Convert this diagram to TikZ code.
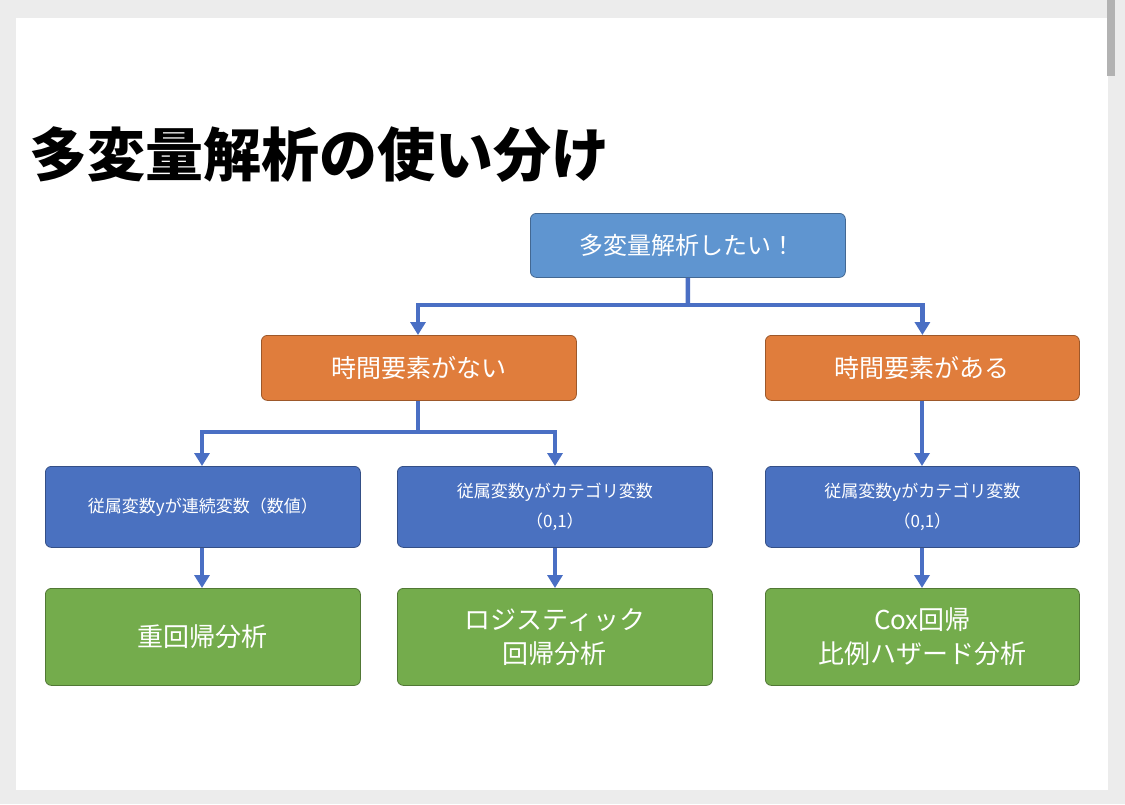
\documentclass[tikz,border=0pt]{standalone}
\usepackage{fontspec}
\setmainfont{Noto Sans CJK JP}
\usetikzlibrary{arrows.meta}
\definecolor{lb}{HTML}{5F95D0}
\definecolor{or}{HTML}{E07D3C}
\definecolor{db}{HTML}{4A71C0}
\definecolor{gr}{HTML}{74AC4C}
\definecolor{ln}{HTML}{4A6FC4}
\begin{document}
\begin{tikzpicture}[x=1pt,y=-1pt,
 box/.style={draw=#1!70!black,line width=0.8pt,fill=#1,rounded corners=6pt,minimum width=315pt,text=white,align=center,anchor=north west,inner sep=0pt},
 con/.style={draw=ln,line width=4.5pt},
 arr/.style={con,-{Triangle[length=13pt,width=15pt]}}]
\useasboundingbox (0,0) rectangle (1125,804);
\fill[gray!15] (0,0) rectangle (1125,804);
\fill[white] (16,18) rectangle (1108,790);
\fill[gray!60] (1107,0) rectangle (1115,76);
\node[anchor=west,font=\fontsize{58}{60}\selectfont\bfseries] (title) at (26,155) {多変量解析の使い分け};
\node[box=lb,minimum width=315pt,minimum height=64pt,font=\fontsize{24}{28}\selectfont] (top) at (530,213) {多変量解析したい！};
\node[box=or,minimum height=65pt,font=\fontsize{25}{28}\selectfont] (o1) at (261,335) {時間要素がない};
\node[box=or,minimum width=314pt,minimum height=65pt,font=\fontsize{25}{28}\selectfont] (o2) at (765,335) {時間要素がある};
\node[box=db,minimum height=81pt,font=\fontsize{17}{30}\selectfont] (b1) at (45,466) {従属変数yが連続変数（数値）};
\node[box=db,minimum height=81pt,font=\fontsize{17}{30}\selectfont] (b2) at (397,466) {従属変数yがカテゴリ変数\\（0,1）};
\node[box=db,minimum width=314pt,minimum height=81pt,font=\fontsize{17}{30}\selectfont] (b3) at (765,466) {従属変数yがカテゴリ変数\\（0,1）};
\node[box=gr,minimum height=97pt,font=\fontsize{26}{34}\selectfont] (g1) at (45,588) {重回帰分析};
\node[box=gr,minimum height=97pt,font=\fontsize{26}{34}\selectfont] (g2) at (397,588) {ロジスティック\\回帰分析};
\node[box=gr,minimum width=314pt,minimum height=97pt,font=\fontsize{26}{34}\selectfont] (g3) at (765,588) {Cox回帰\\比例ハザード分析};
\coordinate (j1) at (688,305);
\coordinate (j2) at (418,432);
\draw[con] (top.south) -- (j1);
\draw[arr] (j1) -| (o1.north-|418,0);
\draw[arr] (j1) -| (o2.north);
\draw[con] (o1.south-|418,0) -- (j2);
\draw[arr] (j2) -| (b1.north-|202,0);
\draw[arr] (j2) -| (b2.north-|555,0);
\draw[arr] (o2.south-|922,0) -- (b3.north-|922,0);
\draw[arr] (b1.south-|202,0) -- (g1.north-|202,0);
\draw[arr] (b2.south-|555,0) -- (g2.north-|555,0);
\draw[arr] (b3.south-|922,0) -- (g3.north-|922,0);
\end{tikzpicture}
\end{document}
